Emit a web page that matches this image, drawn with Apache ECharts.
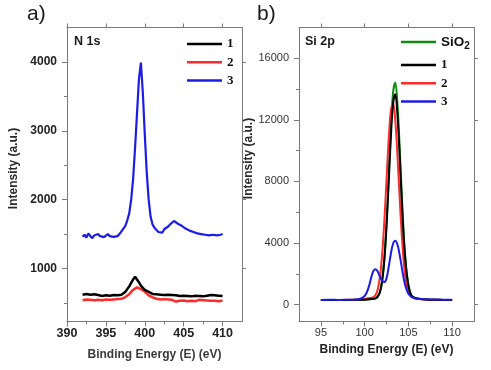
<!DOCTYPE html>
<html>
<head>
<meta charset="utf-8">
<script src="https://cdn.jsdelivr.net/npm/echarts@6/dist/echarts.min.js"></script>
<style>
html,body{margin:0;padding:0;background:#fff;}
#chart{width:491px;height:370px;}
</style>
</head>
<body>
<div id="chart"></div>
<script>
// ---------- Panel a) N 1s ----------
const energyA = [392,392.25,392.5,392.75,393,393.25,393.5,393.75,394,394.25,394.5,394.75,395,395.25,395.5,395.75,396,396.25,396.5,396.75,397,397.25,397.5,397.75,398,398.25,398.5,398.75,399,399.25,399.5,399.75,400,400.25,400.5,400.75,401,401.25,401.5,401.75,402,402.25,402.5,402.75,403,403.25,403.5,403.75,404,404.25,404.5,404.75,405,405.25,405.5,405.75,406,406.25,406.5,406.75,407,407.25,407.5,407.75,408,408.25,408.5,408.75,409,409.25,409.5,409.75,410];
const n1sSample1 = [620,600,630,610,620,595,625,605,615,630,600,620,610,625,605,620,615,630,610,625,620,640,660,700,740,790,840,880,860,800,750,720,690,670,660,640,630,620,625,610,620,605,615,600,620,605,615,600,610,625,600,615,605,620,600,610,595,615,605,620,600,610,595,615,605,600,615,595,610,600,605,595,600];
const n1sSample2 = [540,525,550,530,545,520,540,530,545,525,540,530,550,535,545,530,550,540,555,545,560,570,585,600,625,660,690,710,725,715,700,680,665,640,610,595,580,570,560,565,550,545,555,540,550,535,545,530,520,540,530,545,535,540,525,545,530,540,525,535,545,530,540,525,535,540,530,545,530,535,525,540,535];
const n1sSample3 = [1460,1490,1450,1510,1470,1440,1480,1460,1500,1470,1490,1455,1480,1500,1470,1490,1460,1480,1470,1500,1540,1580,1620,1700,1800,2000,2300,2750,3250,3750,3990,3550,2950,2400,2000,1750,1640,1590,1560,1530,1550,1520,1570,1590,1610,1640,1660,1690,1670,1650,1630,1620,1600,1580,1590,1550,1560,1530,1540,1510,1530,1500,1520,1490,1510,1480,1500,1490,1510,1480,1500,1490,1500];

// ---------- Panel b) Si 2p ----------
const energyB = [95,96,97,98,99,99.5,100,100.25,100.5,100.75,101,101.25,101.5,101.75,102,102.25,102.5,102.75,103,103.25,103.5,103.75,104,104.25,104.5,104.75,105,105.25,105.5,106,107,108,109,110];
const si2pSiO2 = [300,300,300,300,305,310,320,330,345,360,380,410,530,810,1560,3000,5310,8350,11490,13790,14420,13040,10280,7070,4280,2400,1300,720,510,400,330,310,300,300];
const si2pSample1 = [300,300,300,300,305,310,320,330,340,355,370,400,520,800,1500,2850,5040,7910,10890,13060,13660,12350,9740,6710,4070,2300,1250,700,500,400,330,310,300,300];
const si2pSample2 = [300,300,300,305,315,330,360,390,420,450,480,620,1000,1800,3250,5400,8075,10725,12600,13100,11990,9710,6970,4460,2580,1400,800,560,450,380,330,310,300,300];
const si2pSample3 = [300,310,300,310,330,380,560,800,1200,1750,2180,2300,2150,1800,1550,1460,1700,2450,3300,3950,4150,3900,3250,2400,1600,1050,700,550,450,380,340,330,320,320];

// ---------- ticks ----------
const ticksAX = [390,395,400,405,410];
const minorAX = [392.5,397.5,402.5,407.5];
const ticksAY = [1000,2000,3000,4000];
const minorAY = [500,1500,2500,3500];
const ticksBX = [95,100,105,110];
const minorBX = [97.5,102.5,107.5];
const ticksBY = [0,4000,8000,12000,16000];
const minorBY = [2000,6000,10000,14000];

const zip = (xs, ys) => xs.map((x, i) => [x, ys[i]]);

const AXC = '#7a7a7a';
const gA = {left: 67, top: 27.5, width: 175, height: 294};
const gB = {left: 299, top: 27.5, width: 175, height: 294};
const rangeA = {x: [390, 412.5], y: [230, 4500]};
const rangeB = {x: [92.5, 112.5], y: [-1100, 18000]};
const plain = v => String(v);

function mainX(grid, rng, ticks, name, nameGap, lblSize, lblWeight, lblColor, nameColor) {
  return {
    type: 'value', gridIndex: grid, position: 'bottom', min: rng[0], max: rng[1],
    splitLine: {show: false},
    axisLine: {show: true, onZero: false, lineStyle: {color: AXC, width: 1}},
    axisTick: {show: true, inside: false, length: 5, customValues: ticks, lineStyle: {color: AXC}},
    axisLabel: {show: true, customValues: ticks, formatter: plain, margin: 6, fontSize: lblSize, fontWeight: lblWeight, color: lblColor, fontFamily: 'Liberation Sans, Arial, sans-serif'},
    name: name, nameLocation: 'middle', nameGap: nameGap,
    nameTextStyle: {fontSize: 12, fontWeight: 'bold', color: nameColor, fontFamily: 'Liberation Sans, Arial, sans-serif'}
  };
}
function topX(grid, rng, ticks) {
  return {
    type: 'value', gridIndex: grid, position: 'top', min: rng[0], max: rng[1],
    splitLine: {show: false},
    axisLine: {show: true, onZero: false, lineStyle: {color: AXC, width: 1}},
    axisTick: {show: true, inside: false, length: 4, customValues: ticks, lineStyle: {color: AXC}},
    axisLabel: {show: false}
  };
}
function minorX(grid, rng, ticks) {
  return {
    type: 'value', gridIndex: grid, position: 'bottom', min: rng[0], max: rng[1],
    splitLine: {show: false},
    axisLine: {show: false, onZero: false},
    axisTick: {show: true, inside: false, length: 3, customValues: ticks, lineStyle: {color: AXC}},
    axisLabel: {show: false}
  };
}
function mainY(grid, rng, ticks, name, nameGap, lblSize, lblWeight, lblColor, shift) {
  return {
    type: 'value', gridIndex: grid, position: 'left', min: rng[0], max: rng[1],
    splitLine: {show: false},
    axisLine: {show: true, onZero: false, lineStyle: {color: AXC, width: 1}},
    axisTick: {show: true, inside: false, length: 5, customValues: ticks, lineStyle: {color: AXC}},
    axisLabel: {show: true, customValues: ticks, formatter: plain, margin: 10, fontSize: lblSize, fontWeight: lblWeight, color: lblColor, fontFamily: 'Liberation Sans, Arial, sans-serif'},
    name: name, nameLocation: 'middle', nameGap: nameGap,
    nameTextStyle: {fontSize: 12, fontWeight: 'bold', color: '#2a2a2a', fontFamily: 'Liberation Sans, Arial, sans-serif', padding: [0, 0, 0, shift]}
  };
}
function rightY(grid, rng, ticks) {
  return {
    type: 'value', gridIndex: grid, position: 'right', min: rng[0], max: rng[1],
    splitLine: {show: false},
    axisLine: {show: true, onZero: false, lineStyle: {color: AXC, width: 1}},
    axisTick: {show: true, inside: false, length: 4, customValues: ticks, lineStyle: {color: AXC}},
    axisLabel: {show: false}
  };
}
function minorY(grid, rng, ticks) {
  return {
    type: 'value', gridIndex: grid, position: 'left', min: rng[0], max: rng[1],
    splitLine: {show: false},
    axisLine: {show: false, onZero: false},
    axisTick: {show: true, inside: false, length: 3, customValues: ticks, lineStyle: {color: AXC}},
    axisLabel: {show: false}
  };
}

const C1 = '#000000', C2 = '#ff2a2a', C3 = '#1c1ce6', CS = '#128a12';

function line(name, data, color, xi, yi, width, smooth, z) {
  return {
    type: 'line', name: name, data: data, xAxisIndex: xi, yAxisIndex: yi,
    showSymbol: false, symbol: 'none', smooth: smooth, z: z,
    lineStyle: {color: color, width: width}, itemStyle: {color: color},
    emphasis: {disabled: true}, animation: false
  };
}

const legendText = {fontFamily: 'Liberation Serif, Times New Roman, serif', fontWeight: 'bold', fontSize: 13, color: '#111', lineHeight: 14};

const option = {
  backgroundColor: '#ffffff',
  animation: false,
  title: [
    {text: 'a)', left: 27, top: 4, padding: 0, textStyle: {fontSize: 21, fontWeight: 'normal', color: '#1a1a1a', fontFamily: 'Liberation Sans, Arial, sans-serif'}},
    {text: 'b)', left: 257, top: 4, padding: 0, textStyle: {fontSize: 21, fontWeight: 'normal', color: '#1a1a1a', fontFamily: 'Liberation Sans, Arial, sans-serif'}},
    {text: 'N 1s', left: 74, top: 35, padding: 0, textStyle: {fontSize: 12.5, fontWeight: 'bold', color: '#1a1a1a', fontFamily: 'Liberation Sans, Arial, sans-serif'}},
    {text: 'Si 2p', left: 305, top: 35, padding: 0, textStyle: {fontSize: 12.5, fontWeight: 'bold', color: '#1a1a1a', fontFamily: 'Liberation Sans, Arial, sans-serif'}}
  ],
  grid: [
    Object.assign({}, gA), Object.assign({}, gB),
    Object.assign({}, gA), Object.assign({}, gB)
  ],
  xAxis: [
    mainX(0, rangeA.x, ticksAX, 'Binding Energy (E) (eV)', 27, 12.5, 'bold', '#222', '#3a3a3a'),
    topX(0, rangeA.x, ticksAX),
    mainX(1, rangeB.x, ticksBX, 'Binding Energy (E) (eV)', 20, 11, 'normal', '#333', '#222'),
    topX(1, rangeB.x, ticksBX),
    minorX(2, rangeA.x, minorAX),
    minorX(3, rangeB.x, minorBX)
  ],
  yAxis: [
    mainY(0, rangeA.y, ticksAY, 'Intensity (a.u.)', 47, 12, 'bold', '#222', 12),
    rightY(0, rangeA.y, ticksAY),
    mainY(1, rangeB.y, ticksBY, 'Intensity (a.u.)', 44, 11, 'normal', '#333', 32),
    rightY(1, rangeB.y, ticksBY),
    minorY(2, rangeA.y, minorAY),
    minorY(3, rangeB.y, minorBY)
  ],
  legend: [
    {data: ['1', '2', '3'], orient: 'vertical', left: 187, top: 37, padding: 0,
     itemWidth: 35, itemHeight: 2.5, itemGap: 4.3, icon: 'rect', selectedMode: false,
     textStyle: legendText},
    {data: ['SiO2'], orient: 'vertical', left: 401, top: 35, padding: 0,
     itemWidth: 35, itemHeight: 2.5, icon: 'rect', selectedMode: false,
     formatter: () => '{a|SiO}{s|2}',
     textStyle: {color: '#111', rich: {
       a: {fontFamily: 'Liberation Sans, Arial, sans-serif', fontWeight: 'bold', fontSize: 13.5, color: '#111'},
       s: {fontFamily: 'Liberation Sans, Arial, sans-serif', fontWeight: 'bold', fontSize: 10, color: '#111', padding: [8, 0, 0, 0]}
     }}},
    {data: ['1', '2', '3'], orient: 'vertical', left: 401, top: 58, padding: 0,
     itemWidth: 35, itemHeight: 2.5, itemGap: 4.3, icon: 'rect', selectedMode: false,
     textStyle: legendText}
  ],
  series: [
    line('1', zip(energyA, n1sSample1), C1, 0, 0, 2.5, false, 3),
    line('2', zip(energyA, n1sSample2), C2, 0, 0, 2.5, false, 2),
    line('3', zip(energyA, n1sSample3), C3, 0, 0, 2.2, false, 4),
    line('SiO2', zip(energyB, si2pSiO2), CS, 2, 2, 2, 0.35, 1),
    line('2', zip(energyB, si2pSample2), C2, 2, 2, 2, 0.35, 2),
    line('1', zip(energyB, si2pSample1), C1, 2, 2, 2, 0.35, 3),
    line('3', zip(energyB, si2pSample3), C3, 2, 2, 2, 0.35, 4)
  ]
};

const chart = echarts.init(document.getElementById('chart'), null, {renderer: 'canvas'});
chart.setOption(option);
</script>
</body>
</html>
